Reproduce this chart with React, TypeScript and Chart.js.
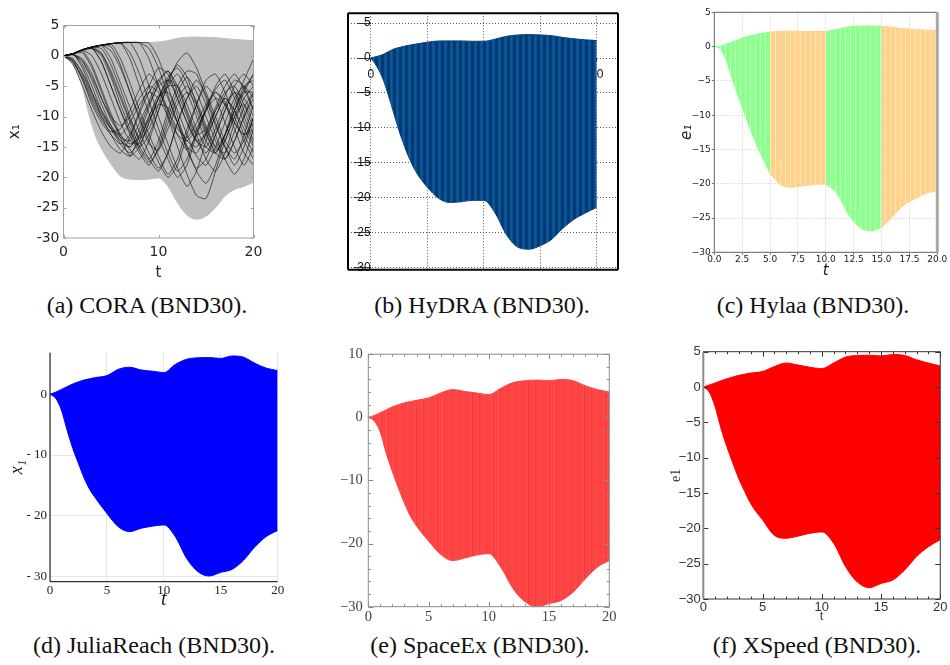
import React, { useEffect, useRef } from "react";
import { Chart, registerables } from "chart.js";

Chart.register(...registerables);

// ---------------- data ----------------
const T_ENV = [0, 0.5, 1, 1.5, 2, 2.5, 3, 3.5, 4, 5, 6, 7, 8, 9, 10, 11, 12, 13, 14, 15, 16, 17, 18, 19, 20];

const CORA_UPPER = [0, 0.1, 0.4, 0.75, 1.1, 1.3, 1.5, 1.65, 1.8, 2.05, 2.25, 2.25, 2.2, 2.2, 2.3, 2.5, 2.9, 3.05, 3.1, 3.05, 3.0, 2.85, 2.7, 2.6, 2.5];
const CORA_LOWER = [0, -0.3, -1.5, -3, -5.2, -8.5, -11.4, -13.7, -15.3, -17.8, -19.8, -20.3, -20.4, -20.3, -20.1, -21.5, -24.2, -26.2, -26.9, -26.4, -25.0, -23.1, -22.0, -21.5, -20.8];

const HYDRA_UPPER = [0, 0.2, 0.45, 0.85, 1.27, 1.5, 1.7, 1.85, 2.0, 2.26, 2.44, 2.45, 2.45, 2.4, 2.4, 2.7, 3.1, 3.3, 3.35, 3.3, 3.2, 2.95, 2.75, 2.6, 2.5];
const HYDRA_LOWER = [0, -1.1, -2.7, -5.0, -7.7, -10.4, -12.7, -14.7, -16.3, -18.5, -20.1, -20.7, -20.6, -20.4, -20.4, -22.2, -25.3, -27.1, -27.4, -26.9, -26.0, -24.4, -23.1, -22.2, -21.4];

const HYLAA_UPPER = [0, 0.0, 0.35, 0.6, 0.9, 1.2, 1.5, 1.7, 1.85, 2.1, 2.25, 2.25, 2.2, 2.2, 2.2, 2.5, 2.85, 3.0, 3.0, 2.95, 2.8, 2.6, 2.5, 2.4, 2.35];
const HYLAA_LOWER = [0, -0.3, -1.75, -4.2, -6.6, -8.8, -11.0, -13.2, -15.1, -18.5, -20.2, -20.5, -20.3, -20.1, -20.0, -21.4, -24.4, -26.3, -26.9, -26.4, -24.8, -23.1, -22.2, -21.4, -21.0];
const HYLAA_MODE_BREAKS = [0, 5, 10, 15, 20];

const JULIA_UPPER = [0, 0.35, 0.8, 1.25, 1.7, 2.05, 2.35, 2.55, 2.75, 3.07, 4.1, 4.45, 4.0, 3.8, 3.57, 4.9, 5.76, 6.0, 6.03, 5.9, 6.3, 6.1, 5.1, 4.3, 3.9];
const JULIA_LOWER = [0, -0.66, -2.6, -5.9, -8.9, -11.4, -13.8, -15.7, -17.1, -19.6, -21.8, -22.6, -22.05, -21.7, -21.5, -23.4, -27.0, -29.2, -29.9, -29.3, -28.8, -27.3, -25.1, -23.4, -22.4];

const SPACEEX_UPPER = [0, 0.3, 0.73, 1.2, 1.67, 2.0, 2.3, 2.5, 2.7, 3.07, 3.85, 4.4, 4.1, 3.85, 3.6, 4.6, 5.5, 5.8, 5.9, 5.8, 6.0, 5.8, 5.0, 4.4, 4.0];
const SPACEEX_LOWER = [0, -0.6, -2.4, -5.8, -8.6, -11.25, -13.6, -15.7, -17.2, -19.6, -21.7, -22.7, -22.3, -21.8, -21.6, -23.75, -27.1, -29.2, -30.0, -29.5, -29.0, -27.7, -25.6, -23.75, -22.7];

const XSPEED_UPPER = [0, 0.28, 0.57, 0.88, 1.18, 1.42, 1.65, 1.82, 1.98, 2.2, 2.9, 3.4, 3.1, 2.8, 2.6, 3.4, 4.24, 4.47, 4.5, 4.4, 4.6, 4.47, 3.86, 3.4, 2.97];
const XSPEED_LOWER = [0, -0.7, -2.8, -5.9, -8.5, -10.8, -13.0, -14.8, -16.5, -18.8, -21.0, -21.4, -21.1, -20.7, -20.5, -22.1, -25.4, -27.6, -28.4, -27.8, -27.3, -25.9, -24.0, -22.6, -21.6];

// CORA simulation traces, sampled at T_SIM
const T_SIM = [0, 1, 2, 3, 4, 5, 6, 7, 8, 9, 10, 11, 12, 13, 14, 15, 16, 17, 18, 19, 20];
const SIM_01 = [0, -1.4, -5, -9, -12.5, -15, -16, -13.5, -9.5, -6, -4, -7, -11, -15, -16, -13, -9, -6, -5, -8, -12];
const SIM_02 = [0, 0.3, -2, -6, -10, -13, -15.5, -16.5, -13, -8.5, -4.5, -2.5, -6, -10, -14, -16, -13, -9, -5, -3, -5];
const SIM_03 = [0, 0.35, 0.8, -1.5, -5.5, -9.5, -13, -15.5, -17, -14, -9, -5, -3, -6, -10, -14, -16, -13, -9, -5, -4];
const SIM_04 = [0, 0.35, 1.0, 1.3, -1, -5, -9, -13, -16, -18, -15, -10, -6, -3.5, -6, -10, -14, -17, -14, -10, -6];
const SIM_05 = [0, 0.35, 1.0, 1.45, 1.7, -0.5, -4.5, -8.5, -12.5, -16, -18.5, -16, -11, -7, -4, -6.5, -11, -15, -18, -15, -10];
const SIM_06 = [0, 0.35, 1.0, 1.45, 1.75, 2.0, -0.5, -4.5, -9, -13, -16.5, -19.5, -17, -12, -8, -5, -7, -11, -15, -18, -15];
const SIM_07 = [0, 0.35, 1.0, 1.45, 1.75, 2.0, 2.15, -0.5, -5, -9.5, -13.5, -17, -20, -18, -13, -9, -6, -8, -12, -16, -18];
const SIM_08 = [0, 0.35, 1.0, 1.45, 1.75, 2.0, 2.15, 2.2, -0.5, -5, -10, -14.5, -18.5, -21.5, -19, -14, -10, -7, -9, -13, -16];
const SIM_09 = [0, 0.35, 1.0, 1.45, 1.75, 2.0, 2.15, 2.2, 2.1, -0.5, -5, -10, -15, -19.5, -23, -23.5, -19, -14, -10, -8, -11];
const SIM_10 = [0, -1, -3.5, -7, -10, -12, -13, -11, -8, -6, -7, -10, -13, -14, -12, -9, -7, -8, -11, -13, -12];
const SIM_11 = [0, -0.5, -3, -6.5, -9.5, -12, -14, -15, -12, -8, -5, -4, -7, -11, -14, -15, -12, -8, -6, -7, -10];
const SIM_12 = [0, 0.2, -1, -4, -8, -11.5, -14, -15, -13, -10, -7, -5, -5, -8, -12, -15, -16, -13, -9, -6, -6];
const SIM_13 = [0, 0.35, 0.9, 0, -3, -7, -11, -14, -14.5, -11, -7, -3.5, -2, -4.5, -9, -13, -15.5, -14, -10, -6, -3];
const SIM_14 = [0, 0.35, 1.0, 1.4, 0.5, -3, -7, -11, -15, -17, -14, -9, -5, -2.5, -3, -7, -11.5, -15, -17, -13, -8];
const SIM_15 = [0, 0.2, -0.5, -3, -7, -10, -11.5, -10, -7, -5, -6, -9, -12, -13.5, -11, -8, -6, -7.5, -11, -13, -11];
const SIM_16 = [0, 0.35, 1.0, 1.4, 1.2, -1.5, -5.5, -10, -14, -17, -19, -16, -11, -7, -5, -8, -13, -17, -19.5, -17, -12];
const SIM_17 = [0, 0.35, 1.0, 1.45, 1.75, 1.5, -1.5, -6, -10, -14, -17.5, -20, -18, -13, -8, -4, -3, -6, -10, -14, -17];
const SIM_18 = [0, 0.35, 0.5, -2, -6, -10, -13.5, -16.5, -15, -11, -7, -4, -5, -9, -13, -17, -19, -16, -11, -7, -5];
const SIM_19 = [0, -1, -4, -8, -11, -13, -14.5, -13, -9, -5, -2, -3, -7, -11, -14, -13, -10, -6.5, -4, -5, -9];
const SIM_20 = [0, 0.35, 1.0, 1.45, 1.75, 2.0, 2.15, 2.2, 2.2, 2.1, -0.5, -5, -10, -15, -19, -21, -18, -13, -8, -4, -0.5];
const SIM_21 = [0, 0.35, 1.0, 1.2, -1, -5, -9, -12.5, -15, -13, -9, -4.5, -1, 0.5, -2, -6, -10, -14, -16, -14, -10];
const SIM_22 = [0, 0.35, 0.9, 1.2, 0.3, -2.5, -6.5, -10.5, -13.5, -12, -8, -4, -1.5, -3.5, -8, -12.5, -16, -17, -14, -10, -7];
const SIM_23 = [0, -0.8, -3.8, -7.5, -10.5, -12.5, -12, -9, -5.5, -3, -5, -9, -13, -15.5, -13, -9, -5, -3, -6, -10, -14];
const SIM_24 = [0, 0.3, -1.5, -5, -9, -12, -14.5, -16, -14, -10, -6.5, -6, -9, -13, -16.5, -18, -15, -11, -7, -5, -7];
const SIM_25 = [0, 0.35, 1.0, 1.45, 1.75, 0.8, -2, -6, -10.5, -14.5, -15.5, -12, -8, -6, -8, -12, -15, -13, -9, -5.5, -3];
const SIM_26 = [0, 0.35, 1.0, 1.45, 1.75, 2.0, 2.1, 0.5, -3, -7.5, -12, -16, -19, -17, -12.5, -8.5, -5.5, -4, -7, -11, -14.5];
const SIM_27 = [0, -0.6, -2.8, -6, -9, -11.5, -13.5, -14, -11, -7.5, -4, -2.5, -5, -9.5, -13, -12, -8.5, -5, -3, -5.5, -9];
const SIM_28 = [0, 0.35, 1.0, 1.45, 1.75, 2.0, 2.15, 2.2, 2.2, 1.2, -2, -6.5, -11, -15.5, -18.5, -17, -13, -9, -6, -9, -13];
const SIM_29 = [0, 0.2, -0.8, -3.5, -7, -10.5, -13, -14.5, -13.5, -10.5, -8, -8.5, -11, -14, -15, -12.5, -9, -7, -9, -12, -15];
const SIM_30 = [0, 0.35, 1.0, 1.3, 0, -3.5, -8, -12, -15.5, -17.5, -15.5, -11, -7, -5, -7.5, -11.5, -15, -16, -12.5, -8.5, -6];
const CORA_SIMS = [
  SIM_01, SIM_02, SIM_03, SIM_04, SIM_05, SIM_06, SIM_07, SIM_08, SIM_09, SIM_10,
  SIM_11, SIM_12, SIM_13, SIM_14, SIM_15, SIM_16, SIM_17, SIM_18, SIM_19, SIM_20,
  SIM_21, SIM_22, SIM_23, SIM_24, SIM_25, SIM_26, SIM_27, SIM_28, SIM_29, SIM_30,
];

// ticks
const A_X_TICKS = [0, 10, 20];
const A_X_LABELS = ["0", "10", "20"];
const A_Y_TICKS = [-30, -25, -20, -15, -10, -5, 0, 5];
const A_Y_LABELS = ["-30", "-25", "-20", "-15", "-10", "-5", "0", "5"];

const B_X_TICKS = [0, 5, 10, 15, 20];
const B_X_LABELS = ["0", "5", "10", "15", "20"];
const B_Y_TICKS = [-30, -25, -20, -15, -10, -5, 0, 5];
const B_Y_LABELS = ["-30", "-25", "-20", "-15", "-10", "-5", "0", "5"];

const C_X_TICKS = [0, 2.5, 5, 7.5, 10, 12.5, 15, 17.5, 20];
const C_X_LABELS = ["0.0", "2.5", "5.0", "7.5", "10.0", "12.5", "15.0", "17.5", "20.0"];
const C_Y_TICKS = [-30, -25, -20, -15, -10, -5, 0, 5];
const C_Y_LABELS = ["\u221230", "\u221225", "\u221220", "\u221215", "\u221210", "\u22125", "0", "5"];

const D_X_TICKS = [0, 5, 10, 15, 20];
const D_X_LABELS = ["0", "5", "10", "15", "20"];
const D_Y_TICKS = [-30, -20, -10, 0];
const D_Y_LABELS = ["- 30", "- 20", "- 10", "0"];

const E_X_TICKS = [0, 5, 10, 15, 20];
const E_X_LABELS = ["0", "5", "10", "15", "20"];
const E_Y_TICKS = [-30, -20, -10, 0, 10];
const E_Y_LABELS = ["\u221230", "\u221220", "\u221210", "0", "10"];
const E_X_MINOR = [1, 2, 3, 4, 6, 7, 8, 9, 11, 12, 13, 14, 16, 17, 18, 19];
const E_Y_MINOR = [-28, -26, -24, -22, -18, -16, -14, -12, -8, -6, -4, -2, 2, 4, 6, 8];

const F_X_TICKS = [0, 5, 10, 15, 20];
const F_X_LABELS = ["0", "5", "10", "15", "20"];
const F_Y_TICKS = [-30, -25, -20, -15, -10, -5, 0, 5];
const F_Y_LABELS = ["\u221230", "\u221225", "\u221220", "\u221215", "\u221210", "\u22125", "0", "5"];
const F_X_MINOR = [1, 2, 3, 4, 6, 7, 8, 9, 11, 12, 13, 14, 16, 17, 18, 19];

const CAPTIONS = [
  "(a) CORA (BND30).",
  "(b) HyDRA (BND30).",
  "(c) Hylaa (BND30).",
  "(d) JuliaReach (BND30).",
  "(e) SpaceEx (BND30).",
  "(f) XSpeed (BND30).",
];

// ---------------- layout ----------------
type Box = { x: number; y: number; w: number; h: number };
type Area = { l: number; t: number; r: number; b: number };

const BOX_A: Box = { x: 6, y: 10, w: 264, h: 272 };
const AREA_A: Area = { l: 63.5, t: 25.5, r: 253.5, b: 238 };
const BOX_B: Box = { x: 346, y: 4, w: 274, h: 275 };
const BOX_C: Box = { x: 678, y: 0, w: 270, h: 280 };
const AREA_C: Area = { l: 714.3, t: 12.3, r: 937.3, b: 252.3 };
const BOX_D: Box = { x: 6, y: 340, w: 284, h: 272 };
const AREA_D: Area = { l: 50, t: 352.7, r: 277.7, b: 581.7 };
const BOX_E: Box = { x: 330, y: 340, w: 290, h: 290 };
const AREA_E: Area = { l: 368.3, t: 350.7, r: 609.3, b: 606.7 };
const BOX_F: Box = { x: 668, y: 340, w: 280, h: 285 };
const AREA_F: Area = { l: 703.3, t: 351.7, r: 940.7, b: 599 };

const CAPTION_POS = [
  { cx: 147, cy: 306.7 },
  { cx: 482, cy: 306.7 },
  { cx: 813, cy: 306.7 },
  { cx: 154, cy: 646.5 },
  { cx: 480, cy: 646.5 },
  { cx: 817, cy: 646.5 },
];

// ---------------- helpers ----------------
const pts = (ts: number[], vs: number[]) => ts.map((t, i) => ({ x: t, y: vs[i] }));
const fixTicks = (vals: number[]) => (s: any) => {
  s.ticks = vals.map((v) => ({ value: v }));
};
const labelCb = (labels: string[]) => (_v: any, i: number) => labels[i];

function band(ts: number[], up: number[], lo: number[], fillColor: any, edge: string) {
  return [
    {
      data: pts(ts, up),
      fill: "+1",
      backgroundColor: fillColor,
      borderColor: edge,
      borderWidth: 1,
      pointRadius: 0,
      cubicInterpolationMode: "monotone",
      order: 10,
    },
    {
      data: pts(ts, lo),
      fill: false,
      borderColor: edge,
      borderWidth: 1,
      pointRadius: 0,
      cubicInterpolationMode: "monotone",
      order: 10,
    },
  ];
}

function stripePattern(ctx: CanvasRenderingContext2D, cols: string[]) {
  const c = document.createElement("canvas");
  c.width = cols.length;
  c.height = 4;
  const g = c.getContext("2d")!;
  cols.forEach((col, i) => {
    g.fillStyle = col;
    g.fillRect(i, 0, 1, 4);
  });
  return ctx.createPattern(c, "repeat");
}

function layoutFor(box: Box, area: Area) {
  return {
    padding: { left: 0, bottom: 0, top: area.t - box.y, right: box.x + box.w - area.r },
  };
}

function common(layout: any) {
  return {
    responsive: false,
    maintainAspectRatio: false,
    animation: false,
    events: [],
    layout,
    plugins: { legend: { display: false }, tooltip: { enabled: false } },
  };
}

type Side = { side: "top" | "right" | "bottom" | "left"; color: string; width: number };
type TickGroup = { x: number[]; y: number[]; len: number };
function frame(spec: { sides: Side[]; ticks?: TickGroup[]; tickColor?: string; mirror?: boolean }) {
  return {
    id: "frame",
    afterDatasetsDraw(chart: any) {
      const { ctx, chartArea: a, scales } = chart;
      const xs = scales.x;
      const ys = scales.y;
      ctx.save();
      if (spec.ticks) {
        ctx.lineWidth = 1;
        ctx.strokeStyle = spec.tickColor || "#000";
        ctx.beginPath();
        for (const g of spec.ticks) {
          for (const v of g.x) {
            const px = Math.round(xs.getPixelForValue(v)) + 0.5;
            ctx.moveTo(px, a.bottom);
            ctx.lineTo(px, a.bottom - g.len);
            if (spec.mirror) {
              ctx.moveTo(px, a.top);
              ctx.lineTo(px, a.top + g.len);
            }
          }
          for (const v of g.y) {
            const py = Math.round(ys.getPixelForValue(v)) + 0.5;
            ctx.moveTo(a.left, py);
            ctx.lineTo(a.left + g.len, py);
            if (spec.mirror) {
              ctx.moveTo(a.right, py);
              ctx.lineTo(a.right - g.len, py);
            }
          }
        }
        ctx.stroke();
      }
      for (const s of spec.sides) {
        ctx.lineWidth = s.width;
        ctx.strokeStyle = s.color;
        ctx.beginPath();
        if (s.side === "top") {
          ctx.moveTo(a.left, a.top);
          ctx.lineTo(a.right, a.top);
        } else if (s.side === "bottom") {
          ctx.moveTo(a.left, a.bottom);
          ctx.lineTo(a.right, a.bottom);
        } else if (s.side === "left") {
          ctx.moveTo(a.left, a.top);
          ctx.lineTo(a.left, a.bottom);
        } else {
          ctx.moveTo(a.right, a.top);
          ctx.lineTo(a.right, a.bottom);
        }
        ctx.stroke();
      }
      ctx.restore();
    },
  };
}

const allSides = (color: string, width: number): Side[] => [
  { side: "top", color, width },
  { side: "right", color, width },
  { side: "bottom", color, width },
  { side: "left", color, width },
];

// ---------------- chart builders ----------------
function buildA(_ctx: CanvasRenderingContext2D) {
  const box = BOX_A, area = AREA_A;
  const tickFont = { family: "DejaVu Sans", size: 14 };
  return {
    type: "line",
    data: {
      datasets: [
        ...CORA_SIMS.map((s) => ({
          data: pts(T_SIM, s),
          borderColor: "rgba(15,15,15,0.8)",
          borderWidth: 0.8,
          pointRadius: 0,
          fill: false,
          tension: 0.2,
          order: 1,
        })),
        ...band(T_ENV, CORA_UPPER, CORA_LOWER, "#bfbfbf", "#bfbfbf"),
      ],
    },
    options: {
      ...common(layoutFor(box, area)),
      scales: {
        x: {
          type: "linear",
          min: 0,
          max: 20,
          afterBuildTicks: fixTicks(A_X_TICKS),
          afterFit: (s: any) => { s.height = box.y + box.h - area.b; },
          ticks: { callback: labelCb(A_X_LABELS), font: tickFont, color: "#262626", padding: 6, maxRotation: 0, autoSkip: false },
          grid: { display: false, drawTicks: false },
          border: { display: false },
          title: { display: true, text: "t", font: { family: "DejaVu Sans", size: 15 }, color: "#262626", padding: 0 },
        },
        y: {
          type: "linear",
          min: -30,
          max: 5,
          afterBuildTicks: fixTicks(A_Y_TICKS),
          afterFit: (s: any) => { s.width = area.l - box.x; },
          ticks: { callback: labelCb(A_Y_LABELS), font: tickFont, color: "#262626", padding: 4, autoSkip: false },
          grid: { display: false, drawTicks: false },
          border: { display: false },
          title: { display: true, text: "x\u2081", font: { family: "DejaVu Sans", size: 15 }, color: "#262626", padding: 0 },
        },
      },
    },
    plugins: [
      frame({
        sides: allSides("#a3a3a3", 1),
        ticks: [{ x: A_X_TICKS, y: A_Y_TICKS, len: 3 }],
        tickColor: "#a3a3a3",
        mirror: true,
      }),
    ],
  };
}

function buildB(ctx: CanvasRenderingContext2D) {
  const blue = stripePattern(ctx, ["#00366b", "#003f7d", "#0a4e8e", "#12599d", "#0a4e8e", "#003f7d"]);
  const tickFont = { family: "Liberation Sans", size: 12 };
  return {
    type: "line",
    data: { datasets: [...band(T_ENV, HYDRA_UPPER, HYDRA_LOWER, blue, "#03417e")] },
    options: {
      ...common({ padding: 2 }),
      scales: {
        x: {
          type: "linear",
          min: -2.01,
          max: 21.88,
          position: { y: 0 },
          afterBuildTicks: fixTicks(B_X_TICKS),
          ticks: { callback: labelCb(B_X_LABELS), font: tickFont, color: "#111", padding: 5, maxRotation: 0, autoSkip: false },
          grid: { color: "#5a5a5a", lineWidth: 1, drawTicks: true, tickLength: 4, tickColor: "#333" },
          border: { display: false, dash: [1, 2] },
        },
        y: {
          type: "linear",
          min: -30.35,
          max: 6.42,
          position: { x: 0 },
          afterBuildTicks: fixTicks(B_Y_TICKS),
          ticks: { callback: labelCb(B_Y_LABELS), font: tickFont, color: "#111", padding: 2, autoSkip: false },
          grid: { color: "#5a5a5a", lineWidth: 1, drawTicks: true, tickLength: 14, tickColor: "#333" },
          border: { display: false, dash: [1, 2] },
        },
      },
    },
    plugins: [frame({ sides: allSides("#000", 2) })],
  };
}

function buildC(ctx: CanvasRenderingContext2D) {
  const box = BOX_C, area = AREA_C;
  const green = stripePattern(ctx, ["#8cff8c", "#8cff8c", "#b8ffb8", "#8cff8c", "#8cff8c"]);
  const orange = stripePattern(ctx, ["#ffd28c", "#ffd28c", "#ffe4b8", "#ffd28c", "#ffd28c"]);
  const datasets: any[] = [];
  for (let k = 0; k < HYLAA_MODE_BREAKS.length - 1; k++) {
    const a = HYLAA_MODE_BREAKS[k], b = HYLAA_MODE_BREAKS[k + 1];
    const idx = T_ENV.map((t, i) => (t >= a && t <= b ? i : -1)).filter((i) => i >= 0);
    const ts = idx.map((i) => T_ENV[i]);
    const up = idx.map((i) => HYLAA_UPPER[i]);
    const lo = idx.map((i) => HYLAA_LOWER[i]);
    const even = k % 2 === 0;
    datasets.push(...band(ts, up, lo, even ? green : orange, even ? "#8cff8c" : "#ffd28c"));
  }
  const tickFont = { family: "DejaVu Sans", size: 9 };
  const gridBase = { color: "#cfcfcf", lineWidth: 0.8, drawTicks: true, tickLength: 2.5, tickColor: "#555" };
  return {
    type: "line",
    data: { datasets },
    options: {
      ...common(layoutFor(box, area)),
      scales: {
        x: {
          type: "linear",
          min: 0,
          max: 20,
          afterBuildTicks: fixTicks(C_X_TICKS),
          afterFit: (s: any) => { s.height = box.y + box.h - area.b; },
          ticks: { callback: labelCb(C_X_LABELS), font: tickFont, color: "#222", padding: -1, maxRotation: 0, autoSkip: false },
          grid: gridBase,
          border: { display: false, dash: [1.5, 1.5] },
          title: { display: true, text: "t", font: { family: "DejaVu Sans", size: 15, style: "italic" }, color: "#222", padding: 0 },
        },
        y: {
          type: "linear",
          min: -30,
          max: 5,
          afterBuildTicks: fixTicks(C_Y_TICKS),
          afterFit: (s: any) => { s.width = area.l - box.x; },
          ticks: { callback: labelCb(C_Y_LABELS), font: tickFont, color: "#222", padding: 1, autoSkip: false },
          grid: gridBase,
          border: { display: false, dash: [1.5, 1.5] },
          title: { display: true, text: "e\u2081", font: { family: "DejaVu Sans", size: 15, style: "italic" }, color: "#222", padding: 0 },
        },
      },
    },
    plugins: [
      frame({
        sides: [
          { side: "top", color: "#666", width: 1 },
          { side: "bottom", color: "#666", width: 1 },
          { side: "left", color: "#666", width: 1 },
          { side: "right", color: "#a8a8a8", width: 3 },
        ],
      }),
    ],
  };
}

function buildD(_ctx: CanvasRenderingContext2D) {
  const box = BOX_D, area = AREA_D;
  const tickFont = { family: "Liberation Serif", size: 13 };
  return {
    type: "line",
    data: { datasets: [...band(T_ENV, JULIA_UPPER, JULIA_LOWER, "#0000ff", "#0000ff")] },
    options: {
      ...common(layoutFor(box, area)),
      scales: {
        x: {
          type: "linear",
          min: 0,
          max: 20,
          afterBuildTicks: fixTicks(D_X_TICKS),
          afterFit: (s: any) => { s.height = box.y + box.h - area.b; },
          ticks: { callback: labelCb(D_X_LABELS), font: tickFont, color: "#222", padding: 1.5, maxRotation: 0, autoSkip: false },
          grid: { color: "#e6e6e6", lineWidth: 1, drawTicks: false },
          border: { display: false },
          title: { display: true, text: "t", font: { family: "Liberation Serif", size: 20, style: "italic" }, color: "#222", padding: 0 },
        },
        y: {
          type: "linear",
          min: -30.84,
          max: 6.84,
          afterBuildTicks: fixTicks(D_Y_TICKS),
          afterFit: (s: any) => { s.width = area.l - box.x; },
          ticks: { callback: labelCb(D_Y_LABELS), font: tickFont, color: "#222", padding: 3, autoSkip: false },
          grid: { color: "#e6e6e6", lineWidth: 1, drawTicks: false },
          border: { display: false },
          title: { display: true, text: "x\u2081", font: { family: "Liberation Serif", size: 18, style: "italic" }, color: "#222", padding: 0 },
        },
      },
    },
    plugins: [
      frame({
        sides: [
          { side: "left", color: "#000", width: 1 },
          { side: "bottom", color: "#000", width: 1 },
        ],
      }),
    ],
  };
}

function buildE(ctx: CanvasRenderingContext2D) {
  const box = BOX_E, area = AREA_E;
  const red = stripePattern(ctx, ["#ff4646", "#ff4b4b", "#f23a3a", "#ff4646", "#ff4444", "#fa4040", "#ff4848"]);
  const tickFont = { family: "Liberation Serif", size: 14.5 };
  return {
    type: "line",
    data: { datasets: [...band(T_ENV, SPACEEX_UPPER, SPACEEX_LOWER, red, "#ff4646")] },
    options: {
      ...common(layoutFor(box, area)),
      scales: {
        x: {
          type: "linear",
          min: 0,
          max: 20,
          afterBuildTicks: fixTicks(E_X_TICKS),
          afterFit: (s: any) => { s.height = box.y + box.h - area.b; },
          ticks: { callback: labelCb(E_X_LABELS), font: tickFont, color: "#444", padding: 2, maxRotation: 0, autoSkip: false },
          grid: { display: false, drawTicks: false },
          border: { display: false },
        },
        y: {
          type: "linear",
          min: -30,
          max: 10,
          afterBuildTicks: fixTicks(E_Y_TICKS),
          afterFit: (s: any) => { s.width = area.l - box.x; },
          ticks: { callback: labelCb(E_Y_LABELS), font: tickFont, color: "#444", padding: 5.5, autoSkip: false },
          grid: { display: false, drawTicks: false },
          border: { display: false },
        },
      },
    },
    plugins: [
      frame({
        sides: allSides("#8c8c8c", 1),
        ticks: [
          { x: E_X_TICKS, y: E_Y_TICKS, len: 5 },
          { x: E_X_MINOR, y: E_Y_MINOR, len: 2.5 },
        ],
        tickColor: "#8c8c8c",
        mirror: true,
      }),
    ],
  };
}

function buildF(_ctx: CanvasRenderingContext2D) {
  const box = BOX_F, area = AREA_F;
  const tickFont = { family: "Liberation Sans", size: 13 };
  return {
    type: "line",
    data: { datasets: [...band(T_ENV, XSPEED_UPPER, XSPEED_LOWER, "#ff0000", "#ff0000")] },
    options: {
      ...common(layoutFor(box, area)),
      scales: {
        x: {
          type: "linear",
          min: 0,
          max: 20,
          afterBuildTicks: fixTicks(F_X_TICKS),
          afterFit: (s: any) => { s.height = box.y + box.h - area.b; },
          ticks: { callback: labelCb(F_X_LABELS), font: tickFont, color: "#333", padding: 0.5, maxRotation: 0, autoSkip: false },
          grid: { display: false, drawTicks: false },
          border: { display: false },
          title: { display: true, text: "t", font: { family: "Liberation Serif", size: 14 }, color: "#333", padding: 0 },
        },
        y: {
          type: "linear",
          min: -30,
          max: 5,
          afterBuildTicks: fixTicks(F_Y_TICKS),
          afterFit: (s: any) => { s.width = area.l - box.x; },
          ticks: { callback: labelCb(F_Y_LABELS), font: tickFont, color: "#333", padding: 2.5, autoSkip: false },
          grid: { display: false, drawTicks: false },
          border: { display: false },
          title: { display: true, text: "e1", font: { family: "Liberation Serif", size: 14 }, color: "#333", padding: 0 },
        },
      },
    },
    plugins: [
      frame({
        sides: [
          { side: "top", color: "#333", width: 1 },
          { side: "right", color: "#333", width: 1 },
          { side: "bottom", color: "#333", width: 1 },
          { side: "left", color: "#8a8a8a", width: 2 },
        ],
        ticks: [
          { x: F_X_TICKS, y: F_Y_TICKS, len: 5 },
          { x: F_X_MINOR, y: [], len: 2.5 },
        ],
        tickColor: "#333",
        mirror: true,
      }),
    ],
  };
}

// ---------------- components ----------------
function ChartPanel({ box, build }: { box: Box; build: (ctx: CanvasRenderingContext2D) => any }) {
  const ref = useRef<HTMLCanvasElement>(null);
  useEffect(() => {
    const canvas = ref.current!;
    const ctx = canvas.getContext("2d")!;
    const chart = new Chart(ctx, build(ctx));
    return () => chart.destroy();
  }, []);
  return (
    <canvas
      ref={ref}
      width={box.w}
      height={box.h}
      style={{ position: "absolute", left: box.x, top: box.y, width: box.w, height: box.h }}
    />
  );
}

export default function App() {
  const panels = [
    { box: BOX_A, build: buildA },
    { box: BOX_B, build: buildB },
    { box: BOX_C, build: buildC },
    { box: BOX_D, build: buildD },
    { box: BOX_E, build: buildE },
    { box: BOX_F, build: buildF },
  ];
  return (
    <div style={{ position: "absolute", left: 0, top: 0, width: 950, height: 665, background: "#fff", overflow: "hidden" }}>
      {panels.map((p, i) => (
        <ChartPanel key={i} box={p.box} build={p.build} />
      ))}
      {CAPTIONS.map((c, i) => (
        <div
          key={"c" + i}
          style={{
            position: "absolute",
            left: CAPTION_POS[i].cx - 200,
            top: CAPTION_POS[i].cy - 14,
            width: 400,
            textAlign: "center",
            fontFamily: "'Liberation Serif', serif",
            fontSize: 24,
            lineHeight: "24px",
            color: "#111",
            whiteSpace: "nowrap",
          }}
        >
          {c}
        </div>
      ))}
    </div>
  );
}
